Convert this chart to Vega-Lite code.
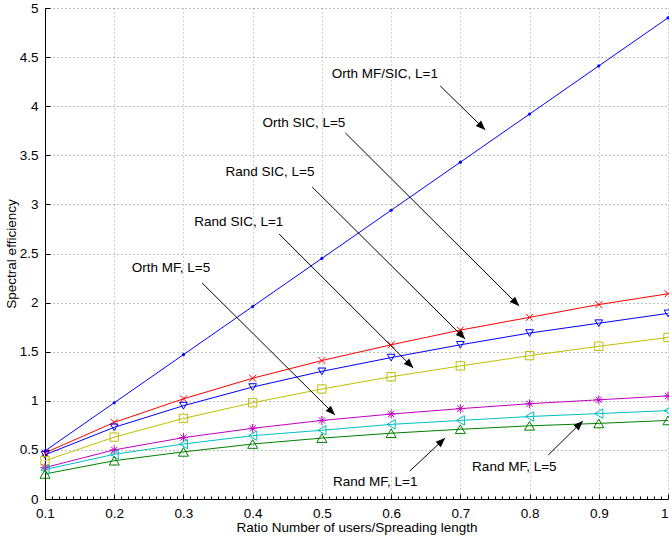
{
  "$schema": "https://vega.github.io/schema/vega-lite/v6.json",
  "width": 623,
  "height": 491,
  "autosize": {"type": "none"},
  "padding": {"left": 45, "top": 8, "right": 1, "bottom": 42},
  "background": "white",
  "config": {
    "font": "Liberation Sans",
    "view": {"stroke": null},
    "axis": {
      "labelFont": "Liberation Sans",
      "titleFont": "Liberation Sans",
      "labelFontSize": 13.5,
      "titleFontSize": 13.5,
      "titleFontWeight": "normal",
      "labelColor": "#000",
      "titleColor": "#000",
      "domainColor": "#000",
      "tickColor": "#000",
      "labelFlush": false,
      "labelOverlap": false,
      "gridColor": "#444",
      "gridDash": [1, 3],
      "gridOpacity": 0.7
    }
  },
  "datasets": {
    "curves": [
      {"s": "Orth MF/SIC, L=1", "x": 0.1, "y": 0.49},
      {"s": "Orth MF/SIC, L=1", "x": 0.2, "y": 0.98},
      {"s": "Orth MF/SIC, L=1", "x": 0.3, "y": 1.47},
      {"s": "Orth MF/SIC, L=1", "x": 0.4, "y": 1.96},
      {"s": "Orth MF/SIC, L=1", "x": 0.5, "y": 2.45},
      {"s": "Orth MF/SIC, L=1", "x": 0.6, "y": 2.94},
      {"s": "Orth MF/SIC, L=1", "x": 0.7, "y": 3.43},
      {"s": "Orth MF/SIC, L=1", "x": 0.8, "y": 3.92},
      {"s": "Orth MF/SIC, L=1", "x": 0.9, "y": 4.41},
      {"s": "Orth MF/SIC, L=1", "x": 1.0, "y": 4.9},
      {"s": "Orth SIC, L=5", "x": 0.1, "y": 0.47},
      {"s": "Orth SIC, L=5", "x": 0.2, "y": 0.78},
      {"s": "Orth SIC, L=5", "x": 0.3, "y": 1.02},
      {"s": "Orth SIC, L=5", "x": 0.4, "y": 1.23},
      {"s": "Orth SIC, L=5", "x": 0.5, "y": 1.41},
      {"s": "Orth SIC, L=5", "x": 0.6, "y": 1.57},
      {"s": "Orth SIC, L=5", "x": 0.7, "y": 1.72},
      {"s": "Orth SIC, L=5", "x": 0.8, "y": 1.85},
      {"s": "Orth SIC, L=5", "x": 0.9, "y": 1.98},
      {"s": "Orth SIC, L=5", "x": 1.0, "y": 2.09},
      {"s": "Rand SIC, L=5", "x": 0.1, "y": 0.45},
      {"s": "Rand SIC, L=5", "x": 0.2, "y": 0.73},
      {"s": "Rand SIC, L=5", "x": 0.3, "y": 0.95},
      {"s": "Rand SIC, L=5", "x": 0.4, "y": 1.14},
      {"s": "Rand SIC, L=5", "x": 0.5, "y": 1.3},
      {"s": "Rand SIC, L=5", "x": 0.6, "y": 1.44},
      {"s": "Rand SIC, L=5", "x": 0.7, "y": 1.57},
      {"s": "Rand SIC, L=5", "x": 0.8, "y": 1.69},
      {"s": "Rand SIC, L=5", "x": 0.9, "y": 1.79},
      {"s": "Rand SIC, L=5", "x": 1.0, "y": 1.89},
      {"s": "Rand SIC, L=1", "x": 0.1, "y": 0.39},
      {"s": "Rand SIC, L=1", "x": 0.2, "y": 0.63},
      {"s": "Rand SIC, L=1", "x": 0.3, "y": 0.82},
      {"s": "Rand SIC, L=1", "x": 0.4, "y": 0.98},
      {"s": "Rand SIC, L=1", "x": 0.5, "y": 1.12},
      {"s": "Rand SIC, L=1", "x": 0.6, "y": 1.245},
      {"s": "Rand SIC, L=1", "x": 0.7, "y": 1.355},
      {"s": "Rand SIC, L=1", "x": 0.8, "y": 1.46},
      {"s": "Rand SIC, L=1", "x": 0.9, "y": 1.555},
      {"s": "Rand SIC, L=1", "x": 1.0, "y": 1.645},
      {"s": "Orth MF, L=5", "x": 0.1, "y": 0.32},
      {"s": "Orth MF, L=5", "x": 0.2, "y": 0.5},
      {"s": "Orth MF, L=5", "x": 0.3, "y": 0.625},
      {"s": "Orth MF, L=5", "x": 0.4, "y": 0.72},
      {"s": "Orth MF, L=5", "x": 0.5, "y": 0.8},
      {"s": "Orth MF, L=5", "x": 0.6, "y": 0.865},
      {"s": "Orth MF, L=5", "x": 0.7, "y": 0.92},
      {"s": "Orth MF, L=5", "x": 0.8, "y": 0.97},
      {"s": "Orth MF, L=5", "x": 0.9, "y": 1.01},
      {"s": "Orth MF, L=5", "x": 1.0, "y": 1.05},
      {"s": "Rand MF, L=5", "x": 0.1, "y": 0.3},
      {"s": "Rand MF, L=5", "x": 0.2, "y": 0.455},
      {"s": "Rand MF, L=5", "x": 0.3, "y": 0.56},
      {"s": "Rand MF, L=5", "x": 0.4, "y": 0.645},
      {"s": "Rand MF, L=5", "x": 0.5, "y": 0.7},
      {"s": "Rand MF, L=5", "x": 0.6, "y": 0.76},
      {"s": "Rand MF, L=5", "x": 0.7, "y": 0.8},
      {"s": "Rand MF, L=5", "x": 0.8, "y": 0.84},
      {"s": "Rand MF, L=5", "x": 0.9, "y": 0.87},
      {"s": "Rand MF, L=5", "x": 1.0, "y": 0.9},
      {"s": "Rand MF, L=1", "x": 0.1, "y": 0.255},
      {"s": "Rand MF, L=1", "x": 0.2, "y": 0.39},
      {"s": "Rand MF, L=1", "x": 0.3, "y": 0.48},
      {"s": "Rand MF, L=1", "x": 0.4, "y": 0.56},
      {"s": "Rand MF, L=1", "x": 0.5, "y": 0.62},
      {"s": "Rand MF, L=1", "x": 0.6, "y": 0.67},
      {"s": "Rand MF, L=1", "x": 0.7, "y": 0.71},
      {"s": "Rand MF, L=1", "x": 0.8, "y": 0.745},
      {"s": "Rand MF, L=1", "x": 0.9, "y": 0.77},
      {"s": "Rand MF, L=1", "x": 1.0, "y": 0.8}
    ],
    "notes": [
      {"label": "Orth MF/SIC, L=1", "tx": 0.591, "ty": 4.33, "x1": 0.671, "y1": 4.206, "x2": 0.736, "y2": 3.758},
      {"label": "Orth SIC, L=5", "tx": 0.474, "ty": 3.83, "x1": 0.534, "y1": 3.727, "x2": 0.785, "y2": 1.965},
      {"label": "Rand SIC, L=5", "tx": 0.425, "ty": 3.33, "x1": 0.486, "y1": 3.177, "x2": 0.707, "y2": 1.629},
      {"label": "Rand SIC, L=1", "tx": 0.38, "ty": 2.82, "x1": 0.438, "y1": 2.7, "x2": 0.632, "y2": 1.334},
      {"label": "Orth MF, L=5", "tx": 0.282, "ty": 2.35, "x1": 0.327, "y1": 2.2, "x2": 0.519, "y2": 0.855},
      {"label": "Rand MF, L=1", "tx": 0.577, "ty": 0.173, "x1": 0.627, "y1": 0.285, "x2": 0.678, "y2": 0.621},
      {"label": "Rand MF, L=5", "tx": 0.778, "ty": 0.326, "x1": 0.827, "y1": 0.448, "x2": 0.877, "y2": 0.794}
    ]
  },
  "layer": [
    {
      "data": {"name": "curves"},
      "mark": {"type": "line", "strokeWidth": 1, "clip": true},
      "encoding": {
        "x": {
          "field": "x", "type": "quantitative",
          "scale": {"domain": [0.1, 1], "nice": false, "zero": false},
          "axis": {
            "title": "Ratio Number of users/Spreading length",
            "tickCount": 500,
            "values": [0.1,0.11,0.12,0.13,0.14,0.15,0.16,0.17,0.18,0.19,0.2,0.21,0.22,0.23,0.24,0.25,0.26,0.27,0.28,0.29,0.3,0.31,0.32,0.33,0.34,0.35,0.36,0.37,0.38,0.39,0.4,0.41,0.42,0.43,0.44,0.45,0.46,0.47,0.48,0.49,0.5,0.51,0.52,0.53,0.54,0.55,0.56,0.57,0.58,0.59,0.6,0.61,0.62,0.63,0.64,0.65,0.66,0.67,0.68,0.69,0.7,0.71,0.72,0.73,0.74,0.75,0.76,0.77,0.78,0.79,0.8,0.81,0.82,0.83,0.84,0.85,0.86,0.87,0.88,0.89,0.9,0.91,0.92,0.93,0.94,0.95,0.96,0.97,0.98,0.99,1],
            "labelExpr": "abs(datum.value * 10 - round(datum.value * 10)) < 0.001 ? format(datum.value, '~g') : ''",
            "labelAlign": {"condition": {"test": "datum.value > 0.995", "value": "right"}, "value": "center"},
            "tickSize": {"condition": {"test": "abs(datum.value * 10 - round(datum.value * 10)) < 0.001", "value": -5}, "value": -3},
            "gridOpacity": {"condition": {"test": "abs(datum.value * 10 - round(datum.value * 10)) < 0.001", "value": 0.7}, "value": 0},
            "labelPadding": 12,
            "titleY": 28,
            "titleBaseline": "middle",
            "grid": true
          }
        },
        "y": {
          "field": "y", "type": "quantitative",
          "scale": {"domain": [0, 5], "nice": false},
          "axis": {
            "title": "Spectral efficiency",
            "tickCount": 50,
            "values": [0, 0.5, 1, 1.5, 2, 2.5, 3, 3.5, 4, 4.5, 5],
            "format": "~g",
            "tickSize": -5,
            "labelPadding": 12,
            "titleX": -34,
            "titleBaseline": "middle",
            "grid": true
          }
        },
        "color": {
          "field": "s", "type": "nominal", "legend": null,
          "scale": {
            "domain": ["Orth MF/SIC, L=1", "Orth SIC, L=5", "Rand SIC, L=5", "Rand SIC, L=1", "Orth MF, L=5", "Rand MF, L=5", "Rand MF, L=1"],
            "range": ["#0000ff", "#ff0000", "#0000ff", "#bfbf00", "#bf00bf", "#00bfbf", "#008000"]
          }
        },
        "detail": {"field": "s"}
      }
    },
    {
      "data": {"name": "curves"},
      "transform": [{"filter": "datum.s !== 'Orth MF/SIC, L=1'"}],
      "mark": {"type": "point", "filled": false, "strokeWidth": 1, "opacity": 1},
      "encoding": {
        "x": {"field": "x", "type": "quantitative"},
        "y": {"field": "y", "type": "quantitative"},
        "color": {"field": "s", "type": "nominal", "legend": null},
        "shape": {
          "field": "s", "type": "nominal", "legend": null,
          "scale": {
            "domain": ["Orth SIC, L=5", "Rand SIC, L=5", "Rand SIC, L=1", "Orth MF, L=5", "Rand MF, L=5", "Rand MF, L=1"],
            "range": ["M-1,-1L1,1M-1,1L1,-1", "triangle-down", "square", "M-1,0L1,0M0,-1L0,1M-0.7,-0.7L0.7,0.7M-0.7,0.7L0.7,-0.7", "triangle-left", "triangle-up"]
          }
        },
        "size": {
          "field": "s", "type": "nominal", "legend": null,
          "scale": {
            "domain": ["Orth SIC, L=5", "Rand SIC, L=5", "Rand SIC, L=1", "Orth MF, L=5", "Rand MF, L=5", "Rand MF, L=1"],
            "range": [49, 100, 49, 64, 100, 100]
          }
        }
      }
    },
    {
      "data": {"name": "curves"},
      "transform": [{"filter": "datum.s === 'Orth MF/SIC, L=1'"}],
      "mark": {"type": "point", "filled": true, "shape": "circle", "size": 10, "color": "#0000ff", "opacity": 1},
      "encoding": {
        "x": {"field": "x", "type": "quantitative"},
        "y": {"field": "y", "type": "quantitative"}
      }
    },
    {
      "data": {"name": "notes"},
      "mark": {"type": "rule", "color": "#000", "strokeWidth": 1},
      "encoding": {
        "x": {"field": "x1", "type": "quantitative"},
        "y": {"field": "y1", "type": "quantitative"},
        "x2": {"field": "x2"},
        "y2": {"field": "y2"}
      }
    },
    {
      "data": {"name": "notes"},
      "transform": [{"calculate": "atan2((datum.x2 - datum.x1) * 692.2, (datum.y2 - datum.y1) * 98.2) * 180 / PI", "as": "ang"}],
      "mark": {"type": "point", "filled": true, "shape": "M0,0L-0.4,1L0.4,1Z", "size": 360, "color": "#000", "opacity": 1},
      "encoding": {
        "x": {"field": "x2", "type": "quantitative"},
        "y": {"field": "y2", "type": "quantitative"},
        "angle": {"field": "ang", "type": "quantitative", "scale": null}
      }
    },
    {
      "data": {"name": "notes"},
      "mark": {"type": "text", "fontSize": 13.5, "font": "Liberation Sans", "align": "center", "baseline": "middle", "color": "#000"},
      "encoding": {
        "x": {"field": "tx", "type": "quantitative"},
        "y": {"field": "ty", "type": "quantitative"},
        "text": {"field": "label"}
      }
    }
  ]
}
